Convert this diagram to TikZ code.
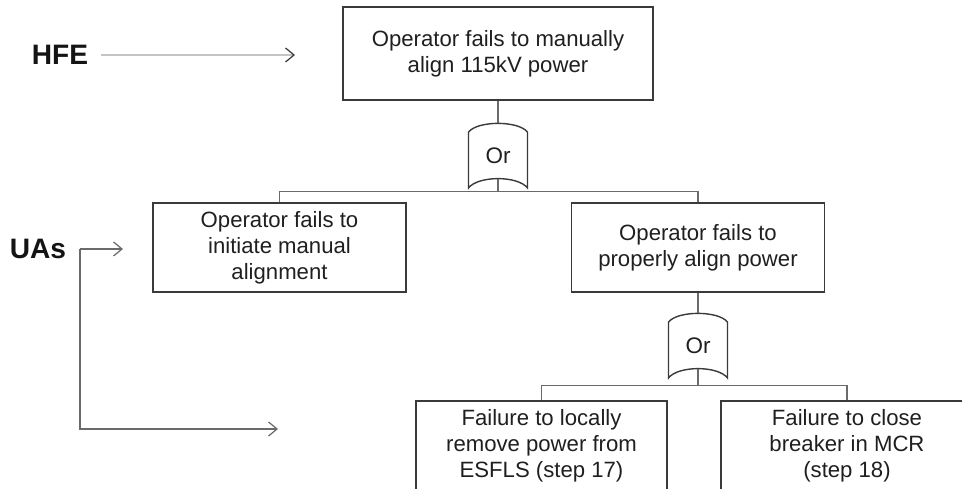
\documentclass[tikz,border=0pt]{standalone}
\usepackage{fontspec}
\setmainfont{Liberation Sans}
\usepackage{tikz}
\usepackage{xcolor}
\usetikzlibrary{positioning, arrows.meta, calc}

\definecolor{boxgray}{HTML}{3A3A3A}
\definecolor{linegray}{HTML}{6A6A6A}
\definecolor{palegray}{HTML}{C4C4C4}

\tikzset{
    event/.style={draw=boxgray, rectangle, line width=0.8pt, align=center, text=black!88,
        font=\fontsize{12.6}{14.9}\selectfont},
    orgate/.style={minimum width=1.18cm, minimum height=1.3cm, inner sep=0pt, text=black!88,
        font=\fontsize{12.8}{15}\selectfont},
    gateline/.style={draw=boxgray, line width=0.8pt},
    link/.style={draw=linegray, line width=0.7pt},
    pointer/.style={draw=linegray, line width=0.7pt, -{Straight Barb[length=0.17cm, width=0.28cm]}},
    tag/.style={inner sep=0.25cm, text=black!92, font=\fontsize{16}{18}\selectfont\bfseries}
}

\begin{document}
\begin{tikzpicture}

    % Page frame
    \clip (0,0) rectangle (19.24,9.78);

    % Top event
    \node[event, minimum width=6.2cm, minimum height=1.86cm] (top) at (9.96,8.71)
        {Operator fails to manually\\align 115kV power};

    % First gate and the two unsafe actions
    \node[orgate] (gateA) at (9.96,6.67) {Or};
    \node[event, minimum width=5.06cm, minimum height=1.78cm] (uaLeft) at (5.59,4.83)
        {Operator fails to\\initiate manual\\alignment};
    \node[event, minimum width=5.06cm, minimum height=1.78cm] (uaRight) at (13.96,4.83)
        {Operator fails to\\properly align power};

    % Second gate and its two steps
    \node[orgate] (gateB) at (13.96,2.87) {Or};
    \node[event, minimum width=5.02cm, minimum height=1.8cm] (stepL) at (10.83,0.86)
        {Failure to locally\\remove power from\\ESFLS (step 17)};
    \node[event, minimum width=5.04cm, minimum height=1.8cm] (stepR) at (16.94,0.86)
        {Failure to close\\breaker in MCR\\(step 18)};

    % Gate outlines
    \foreach \g in {gateA, gateB} {
        \draw[gateline, shift={(\g.center)}] (-0.59,-0.65) -- (-0.59,0.47)
            .. controls (-0.4,0.7) and (0.4,0.7) .. (0.59,0.47) -- (0.59,-0.65)
            .. controls (0.4,-0.4) and (-0.4,-0.4) .. cycle;
    }

    % Tree links
    \coordinate (barA) at ([yshift=-0.07cm]gateA.south);
    \coordinate (barB) at ([yshift=-0.14cm]gateB.south);
    \draw[link] (top.south) -- (gateA.north);
    \draw[link] ([yshift=0.19cm]gateA.south) -- (barA);
    \draw[link] (uaLeft.north) |- (barA) -| (uaRight.north);
    \draw[link] (uaRight.south) -- (gateB.north);
    \draw[link] ([yshift=0.19cm]gateB.south) -- (barB);
    \draw[link] (stepL.north) |- (barB) -| (stepR.north);

    % Labels on the left
    \node[tag] (hfe) at (1.2,8.68) {HFE};
    \node[tag, inner sep=0.27cm] (uas) at (0.76,4.8) {UAs};
    \coordinate (hfeTip) at (5.9,8.68);
    \coordinate (uaTipA) at (2.46,4.8);
    \coordinate (uaTipB) at (5.56,1.2);
    \draw[pointer, draw=palegray, -{Straight Barb[length=0.17cm, width=0.28cm, color=boxgray]}] (hfe.east) -- (hfeTip);
    \draw[pointer] (uas.east) -- (uaTipA);
    \draw[pointer] (uas.east) |- (uaTipB);

\end{tikzpicture}
\end{document}
